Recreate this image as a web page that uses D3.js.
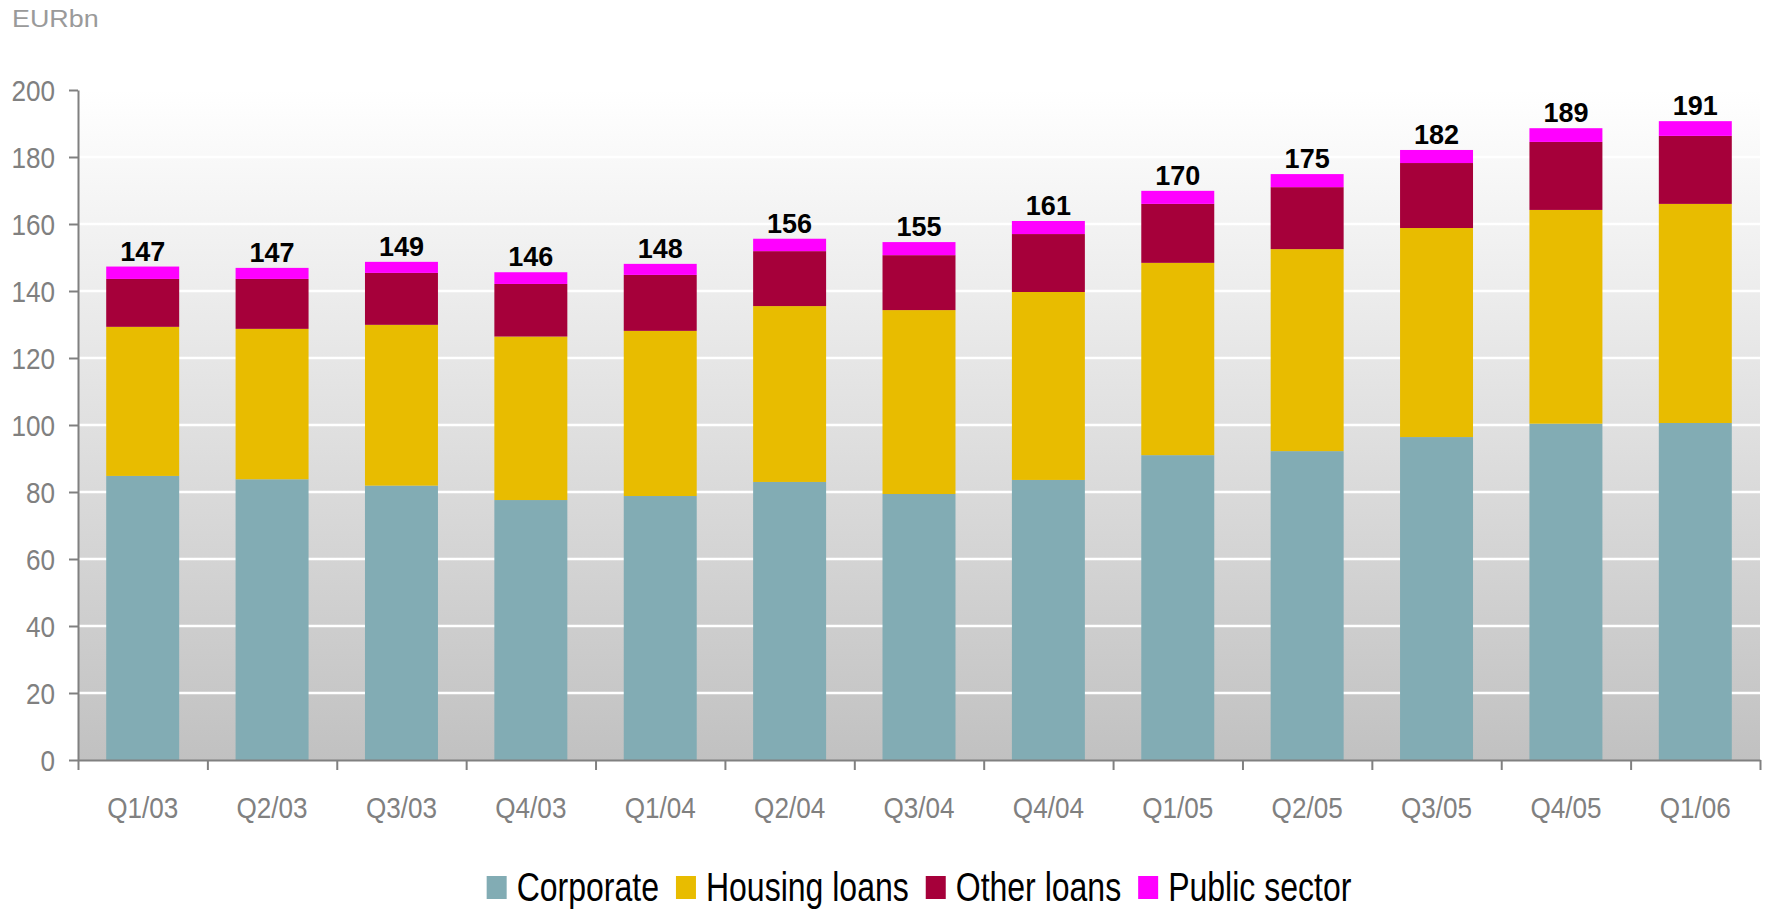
<!DOCTYPE html>
<html>
<head>
<meta charset="utf-8">
<script src="https://cdn.jsdelivr.net/npm/d3@7"></script>
<style>
  html, body { margin: 0; padding: 0; background: #ffffff; }
  svg { display: block; font-family: "Liberation Sans", Arial, sans-serif; }
</style>
</head>
<body>
<svg id="chart" width="1769" height="909"></svg>
<script>
// Quarterly loan book, EUR billions, stacked by segment
const quarters = ["Q1/03","Q2/03","Q3/03","Q4/03","Q1/04","Q2/04","Q3/04","Q4/04","Q1/05","Q2/05","Q3/05","Q4/05","Q1/06"];
const corporate    = [84.8, 83.8, 81.9, 77.6, 78.8, 83.0, 79.4, 83.6, 91.0, 92.2, 96.4, 100.4, 100.6];
const housingLoans = [44.5, 44.9, 48.0, 48.8, 49.3, 52.5, 54.9, 56.1, 57.4, 60.3, 62.4, 63.8, 65.4];
const otherLoans   = [14.3, 14.9, 15.5, 15.7, 16.7, 16.4, 16.4, 17.3, 17.6, 18.5, 19.4, 20.3, 20.3];
const publicSector = [3.7, 3.3, 3.3, 3.5, 3.3, 3.7, 3.9, 3.9, 3.9, 3.9, 3.9, 4.1, 4.4];
const seriesNames  = ["Corporate", "Housing loans", "Other loans", "Public sector"];
const seriesColors = ["#82acb4", "#e8bc00", "#a6003a", "#ff00ff"];
const yTicks = [0, 20, 40, 60, 80, 100, 120, 140, 160, 180, 200];
const unitLabel = "EURbn";

const seriesValues = [corporate, housingLoans, otherLoans, publicSector];
const rows = quarters.map((q, i) => {
  const r = { quarter: q };
  seriesNames.forEach((s, k) => { r[s] = seriesValues[k][i]; });
  return r;
});

const svg = d3.select("#chart");
const plot = { left: 78, right: 1760, top: 90, bottom: 760 };
const narrowAxis = 0.87, narrowLegend = 0.80;

const x = d3.scaleBand().domain(quarters).range([plot.left, plot.right])
  .paddingInner(0.436).paddingOuter(0.218);
const y = d3.scaleLinear().domain([0, 200]).range([plot.bottom, plot.top]);

// Plot background: vertical grey gradient
const defs = svg.append("defs");
const grad = defs.append("linearGradient").attr("id", "bg")
  .attr("x1", 0).attr("y1", 0).attr("x2", 0).attr("y2", 1);
grad.append("stop").attr("offset", "0%").attr("stop-color", "#ffffff");
grad.append("stop").attr("offset", "100%").attr("stop-color", "#c1c1c1");
svg.append("rect").attr("x", plot.left).attr("y", plot.top)
  .attr("width", plot.right - plot.left).attr("height", plot.bottom - plot.top)
  .attr("fill", "url(#bg)");

// Horizontal white gridlines
svg.append("g").selectAll("line")
  .data(yTicks.filter(v => v > 0 && v < 200))
  .join("line")
  .attr("x1", plot.left).attr("x2", plot.right)
  .attr("y1", d => y(d)).attr("y2", d => y(d))
  .attr("stroke", "#ffffff").attr("stroke-width", 2.5);

// Stacked bars
const layers = d3.stack().keys(seriesNames)(rows);
svg.append("g").selectAll("g")
  .data(layers)
  .join("g")
  .attr("fill", (d, i) => seriesColors[i])
  .selectAll("rect")
  .data(d => d)
  .join("rect")
  .attr("x", d => x(d.data.quarter))
  .attr("width", x.bandwidth())
  .attr("y", d => y(d[1]))
  .attr("height", d => y(d[0]) - y(d[1]));

// Total labels above each bar
const totals = rows.map(r => d3.sum(seriesNames, s => r[s]));
svg.append("g").selectAll("text")
  .data(quarters)
  .join("text")
  .attr("x", q => x(q) + x.bandwidth() / 2)
  .attr("y", (q, i) => y(totals[i]) - 6)
  .attr("text-anchor", "middle")
  .attr("font-size", 27)
  .attr("font-weight", "bold")
  .attr("fill", "#000000")
  .text((q, i) => Math.round(totals[i]));

// Y axis
const yAxis = svg.append("g").attr("transform", `translate(${plot.left},0)`)
  .call(d3.axisLeft(y).tickValues(yTicks).tickSize(9).tickPadding(14).tickSizeOuter(0));
yAxis.select(".domain").attr("stroke", "#808080").attr("stroke-width", 2);
yAxis.selectAll(".tick line").attr("stroke", "#808080").attr("stroke-width", 2);
yAxis.selectAll(".tick text")
  .attr("fill", "#808080").attr("font-size", 30)
  .attr("font-family", "Liberation Sans, Arial, sans-serif")
  .attr("x", -23 / narrowAxis)
  .attr("dy", "0.36em")
  .attr("transform", `scale(${narrowAxis},1)`);

// X axis: baseline with ticks on category boundaries
const xEdge = d3.scaleLinear().domain([0, quarters.length]).range([plot.left, plot.right]);
const xTicksAxis = svg.append("g").attr("transform", `translate(0,${plot.bottom})`)
  .call(d3.axisBottom(xEdge).tickValues(d3.range(quarters.length + 1))
    .tickSize(10).tickSizeOuter(0).tickFormat(""));
xTicksAxis.select(".domain").attr("stroke", "#808080").attr("stroke-width", 2);
xTicksAxis.selectAll(".tick line").attr("stroke", "#808080").attr("stroke-width", 2);

// X axis: category labels centred under bars
const xLabels = svg.append("g").attr("transform", `translate(0,${plot.bottom})`)
  .call(d3.axisBottom(x).tickSize(0).tickPadding(37));
xLabels.select(".domain").remove();
xLabels.selectAll(".tick text")
  .attr("fill", "#808080").attr("font-size", 30)
  .attr("font-family", "Liberation Sans, Arial, sans-serif")
  .attr("transform", `scale(${narrowAxis},1)`);

// Unit label
svg.append("text")
  .attr("x", 0).attr("y", 27)
  .attr("font-size", 24)
  .attr("fill", "#9a9a9a")
  .attr("transform", "translate(12,0) scale(1.12,1)")
  .text(unitLabel);

// Legend, centred under the plot
const legend = svg.append("g");
const items = legend.selectAll("g").data(seriesNames).join("g");
items.append("rect")
  .attr("x", 0).attr("y", 876)
  .attr("width", 20).attr("height", 23)
  .attr("fill", (d, i) => seriesColors[i]);
items.append("text")
  .attr("x", 0).attr("y", 901)
  .attr("font-size", 40)
  .attr("fill", "#000000")
  .attr("transform", `translate(30,0) scale(${narrowLegend},1)`)
  .text(d => d);
let cursor = 0;
const positions = [];
items.each(function () {
  const w = d3.select(this).select("text").node().getComputedTextLength() * narrowLegend;
  positions.push(cursor);
  cursor += 30 + w + 17;
});
const legendWidth = cursor - 17;
const legendStart = (plot.left + plot.right) / 2 - legendWidth / 2;
items.attr("transform", (d, i) => `translate(${legendStart + positions[i]},0)`);
</script>
</body>
</html>
